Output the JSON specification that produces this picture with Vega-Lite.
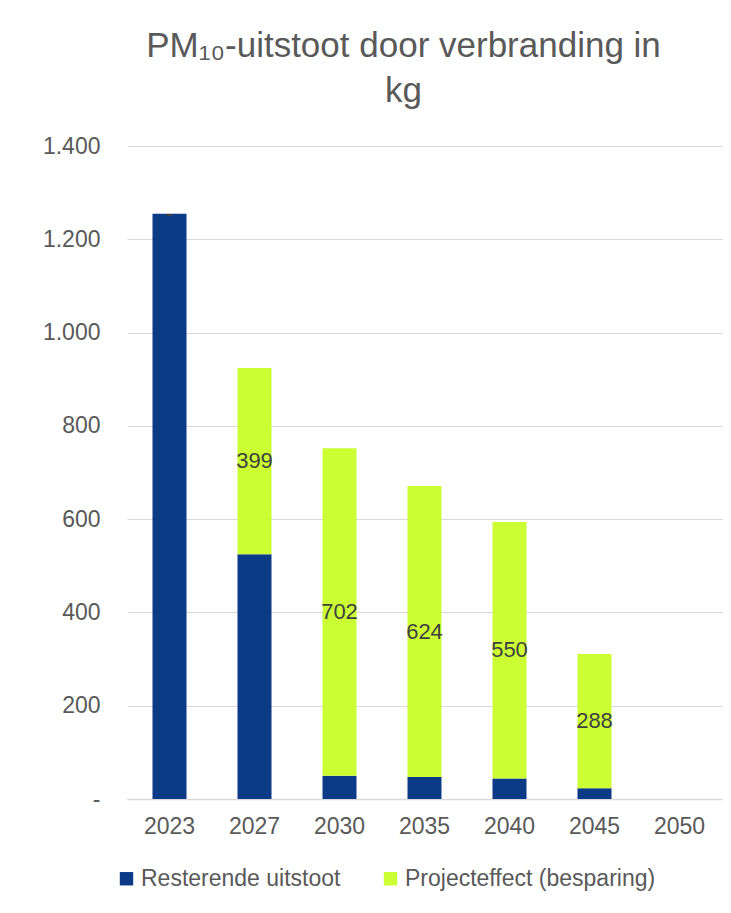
{
  "$schema": "https://vega.github.io/schema/vega-lite/v6.json",
  "autosize": {"type": "none"},
  "width": 595,
  "height": 653,
  "padding": {"left": 127, "top": 146, "right": 9, "bottom": 114},
  "background": "white",
  "config": {"view": {"stroke": null}},
  "title": {
    "text": ["PM₁₀-uitstoot door verbranding in", "kg"],
    "font": "Liberation Sans",
    "fontSize": 35,
    "fontWeight": "normal",
    "color": "#595959",
    "anchor": "middle",
    "lineHeight": 45,
    "dx": -21,
    "offset": 26
  },
  "data": {
    "values": [
      {"year": "2023", "serie": "Resterende uitstoot", "order": 1, "value": 1255, "label": ""},
      {"year": "2023", "serie": "Projecteffect (besparing)", "order": 2, "value": 0, "label": "-"},
      {"year": "2027", "serie": "Resterende uitstoot", "order": 1, "value": 525, "label": ""},
      {"year": "2027", "serie": "Projecteffect (besparing)", "order": 2, "value": 399, "label": "399"},
      {"year": "2030", "serie": "Resterende uitstoot", "order": 1, "value": 50, "label": ""},
      {"year": "2030", "serie": "Projecteffect (besparing)", "order": 2, "value": 702, "label": "702"},
      {"year": "2035", "serie": "Resterende uitstoot", "order": 1, "value": 47, "label": ""},
      {"year": "2035", "serie": "Projecteffect (besparing)", "order": 2, "value": 624, "label": "624"},
      {"year": "2040", "serie": "Resterende uitstoot", "order": 1, "value": 44, "label": ""},
      {"year": "2040", "serie": "Projecteffect (besparing)", "order": 2, "value": 550, "label": "550"},
      {"year": "2045", "serie": "Resterende uitstoot", "order": 1, "value": 23, "label": ""},
      {"year": "2045", "serie": "Projecteffect (besparing)", "order": 2, "value": 288, "label": "288"}
    ]
  },
  "transform": [
    {"stack": "value", "groupby": ["year"], "sort": [{"field": "order", "order": "ascending"}], "as": ["y0", "y1"]},
    {"calculate": "(datum.y0 + datum.y1) / 2", "as": "ymid"}
  ],
  "encoding": {
    "x": {
      "field": "year",
      "type": "ordinal",
      "scale": {"domain": ["2023", "2027", "2030", "2035", "2040", "2045", "2050"], "paddingInner": 0.6, "paddingOuter": 0.3},
      "axis": {
        "title": null,
        "labelAngle": 0,
        "ticks": false,
        "labelPadding": 16,
        "labelFont": "Liberation Sans",
        "labelFontSize": 23,
        "labelColor": "#595959",
        "domainColor": "#d9d9d9",
        "domainWidth": 1.5,
        "grid": false
      }
    }
  },
  "layer": [
    {
      "mark": {"type": "bar"},
      "encoding": {
        "y": {
          "field": "y0",
          "type": "quantitative",
          "scale": {"domain": [0, 1400], "nice": false},
          "axis": {
            "title": null,
            "values": [0, 200, 400, 600, 800, 1000, 1200, 1400],
            "labelExpr": "datum.value == 0 ? '-\u00a0' : replace(format(datum.value, ','), ',', '.')",
            "domain": false,
            "ticks": false,
            "labelPadding": 27,
            "labelFont": "Liberation Sans",
            "labelFontSize": 23,
            "labelColor": "#595959",
            "gridColor": "#d9d9d9",
            "gridWidth": 1
          }
        },
        "y2": {"field": "y1"},
        "color": {
          "field": "serie",
          "type": "nominal",
          "scale": {"domain": ["Resterende uitstoot", "Projecteffect (besparing)"], "range": ["#0b3a87", "#ccff33"]},
          "legend": {
            "title": null,
            "orient": "none",
            "direction": "horizontal",
            "legendX": -12,
            "legendY": 721,
            "symbolType": "square",
            "symbolSize": 180,
            "symbolStrokeWidth": 0,
            "symbolOpacity": 1,
            "labelFont": "Liberation Sans",
            "labelFontSize": 23,
            "labelColor": "#595959",
            "labelOffset": 3,
            "columnPadding": 38,
            "labelLimit": 400
          }
        }
      }
    },
    {
      "mark": {"type": "text", "font": "Liberation Sans", "fontSize": 22, "color": "#404040", "baseline": "middle", "align": "center"},
      "encoding": {
        "y": {"field": "ymid", "type": "quantitative"},
        "text": {"field": "label"}
      }
    }
  ]
}
